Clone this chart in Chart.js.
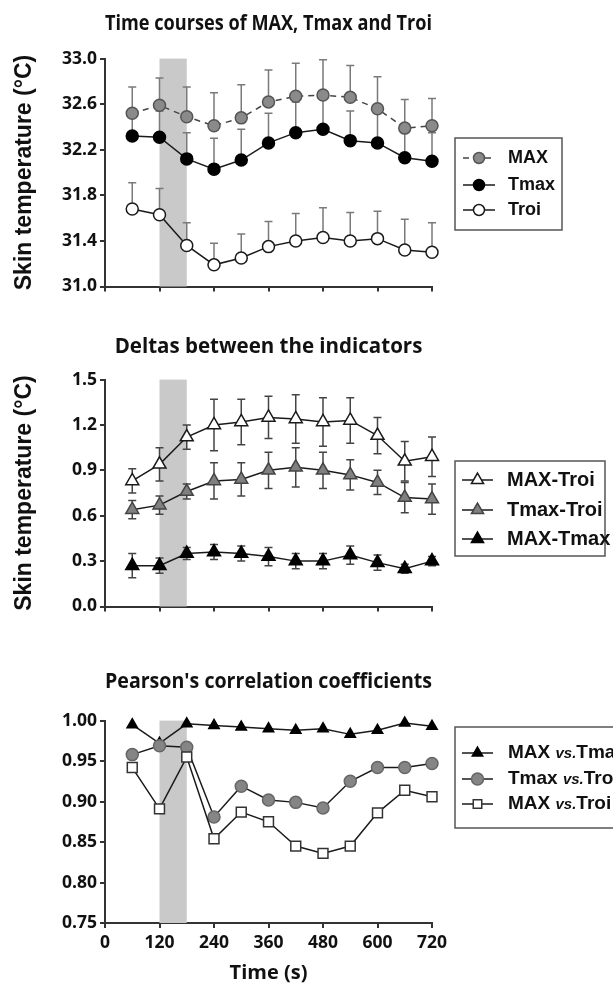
<!DOCTYPE html>
<html>
<head>
<meta charset="utf-8">
<script src="https://cdn.jsdelivr.net/npm/chart.js@4.4.1/dist/chart.umd.min.js"></script>
<style>
    html, body { margin: 0; padding: 0; background: #fff; }
    body { width: 613px; height: 985px; position: relative; overflow: hidden; }
    canvas { position: absolute; left: 0; }
    #tempChart { top: 0; }
    #deltaChart { top: 300px; }
    #corrChart { top: 620px; }
</style>
</head>
<body>
<canvas id="tempChart" width="613" height="300"></canvas>
<canvas id="deltaChart" width="613" height="320"></canvas>
<canvas id="corrChart" width="613" height="365"></canvas>
<script>
// time points (s) and the grey stimulus window
const times = [60, 120, 180, 240, 300, 360, 420, 480, 540, 600, 660, 720];
const shadeStart = 120;
const shadeEnd = 180;

// panel 1: skin temperature (°C), mean and SD
const maxMean  = [32.52, 32.59, 32.49, 32.41, 32.48, 32.62, 32.67, 32.68, 32.66, 32.56, 32.39, 32.41];
const maxSd    = [0.23, 0.24, 0.26, 0.29, 0.29, 0.28, 0.29, 0.31, 0.28, 0.28, 0.25, 0.24];
const tmaxMean = [32.32, 32.31, 32.12, 32.03, 32.11, 32.26, 32.35, 32.38, 32.28, 32.26, 32.13, 32.10];
const tmaxSd   = [0.22, 0.23, 0.23, 0.27, 0.27, 0.26, 0.27, 0.27, 0.26, 0.27, 0.26, 0.25];
const troiMean = [31.68, 31.63, 31.36, 31.19, 31.25, 31.35, 31.40, 31.43, 31.40, 31.42, 31.32, 31.30];
const troiSd   = [0.23, 0.23, 0.20, 0.19, 0.21, 0.22, 0.24, 0.26, 0.25, 0.24, 0.27, 0.26];

// panel 2: deltas (°C), mean and SD
const maxTroi    = [0.83, 0.94, 1.12, 1.20, 1.22, 1.25, 1.24, 1.22, 1.23, 1.13, 0.96, 0.99];
const maxTroiSd  = [0.08, 0.11, 0.08, 0.17, 0.15, 0.14, 0.16, 0.16, 0.15, 0.12, 0.13, 0.13];
const tmaxTroi   = [0.64, 0.67, 0.76, 0.83, 0.84, 0.90, 0.92, 0.90, 0.87, 0.82, 0.72, 0.71];
const tmaxTroiSd = [0.06, 0.06, 0.05, 0.12, 0.11, 0.12, 0.13, 0.12, 0.10, 0.08, 0.10, 0.10];
const maxTmax    = [0.27, 0.27, 0.35, 0.36, 0.35, 0.33, 0.30, 0.30, 0.34, 0.29, 0.25, 0.30];
const maxTmaxSd  = [0.08, 0.05, 0.04, 0.05, 0.05, 0.06, 0.05, 0.05, 0.06, 0.05, 0.03, 0.03];

// panel 3: Pearson's r
const rMaxTmax  = [0.995, 0.972, 0.996, 0.994, 0.992, 0.990, 0.988, 0.990, 0.983, 0.988, 0.997, 0.993];
const rTmaxTroi = [0.958, 0.969, 0.967, 0.881, 0.919, 0.902, 0.899, 0.892, 0.925, 0.942, 0.942, 0.947];
const rMaxTroi  = [0.942, 0.891, 0.955, 0.854, 0.887, 0.875, 0.845, 0.836, 0.845, 0.886, 0.914, 0.906];

const AXIS = '#333';
const TEXT = '#111';
const TITLE_FONT = 'Open Sans';
const LEGEND_FONT = 'Liberation Sans';

Chart.defaults.font.family = TITLE_FONT;
Chart.defaults.color = TEXT;

const toPoints = (values) => values.map((v, i) => ({ x: times[i], y: v }));

const shadePlugin = {
    id: 'shade',
    beforeDatasetsDraw(chart) {
        const { ctx, chartArea, scales: { x } } = chart;
        const x1 = x.getPixelForValue(shadeStart);
        const x2 = x.getPixelForValue(shadeEnd);
        ctx.save();
        ctx.fillStyle = '#c9c9c9';
        ctx.fillRect(x1, chartArea.top, x2 - x1, chartArea.bottom - chartArea.top);
        ctx.restore();
    }
};

const errorBarPlugin = {
    id: 'errorBars',
    beforeDatasetsDraw(chart) {
        const { ctx, scales: { x, y } } = chart;
        chart.data.datasets.forEach(ds => {
            if (!ds.errors) return;
            ctx.save();
            ctx.strokeStyle = ds.errorColor;
            ctx.lineWidth = 1.5;
            ds.data.forEach((p, i) => {
                const px = x.getPixelForValue(p.x);
                const top = y.getPixelForValue(p.y + ds.errors[i]);
                const bottom = y.getPixelForValue(ds.errorBoth ? p.y - ds.errors[i] : p.y);
                ctx.beginPath();
                ctx.moveTo(px, top);
                ctx.lineTo(px, bottom);
                ctx.moveTo(px - 4, top);
                ctx.lineTo(px + 4, top);
                if (ds.errorBoth) {
                    ctx.moveTo(px - 4, bottom);
                    ctx.lineTo(px + 4, bottom);
                }
                ctx.stroke();
            });
            ctx.restore();
        });
    }
};

function drawMarker(ctx, style, cx, cy, r) {
    ctx.beginPath();
    if (style === 'triangle') {
        let rad = 0;
        ctx.moveTo(cx + Math.sin(rad) * r, cy - Math.cos(rad) * r);
        rad += 2 * Math.PI / 3;
        ctx.lineTo(cx + Math.sin(rad) * r, cy - Math.cos(rad) * r);
        rad += 2 * Math.PI / 3;
        ctx.lineTo(cx + Math.sin(rad) * r, cy - Math.cos(rad) * r);
        ctx.closePath();
    } else if (style === 'rect') {
        const s = r * Math.SQRT1_2;
        ctx.rect(cx - s, cy - s, 2 * s, 2 * s);
    } else {
        ctx.arc(cx, cy, r, 0, Math.PI * 2);
    }
    ctx.fill();
    ctx.stroke();
}

// boxed legend on the right, line + marker + bold label
const boxLegendPlugin = {
    id: 'boxLegend',
    afterDraw(chart, args, opts) {
        const { ctx } = chart;
        ctx.save();
        ctx.strokeStyle = '#555';
        ctx.lineWidth = 1.5;
        ctx.strokeRect(opts.box[0], opts.box[1], opts.box[2], opts.box[3]);
        chart.data.datasets.forEach((ds, i) => {
            const y = opts.rows[i];
            ctx.strokeStyle = ds.borderColor;
            ctx.lineWidth = ds.borderWidth;
            ctx.setLineDash(ds.borderDash || []);
            ctx.beginPath();
            ctx.moveTo(opts.lineX[0], y);
            ctx.lineTo(opts.lineX[1], y);
            ctx.stroke();
            ctx.setLineDash([]);
            ctx.fillStyle = ds.pointBackgroundColor;
            ctx.strokeStyle = ds.pointBorderColor;
            ctx.lineWidth = ds.pointBorderWidth;
            drawMarker(ctx, ds.pointStyle, (opts.lineX[0] + opts.lineX[1]) / 2, y, opts.markerRadius || ds.pointRadius);

            ctx.fillStyle = TEXT;
            ctx.textBaseline = 'middle';
            let tx = opts.textX;
            const parts = ds.label.split('vs.');
            parts.forEach((part, k) => {
                ctx.font = `bold ${opts.fontSize}px "${LEGEND_FONT}"`;
                ctx.fillText(part, tx, y);
                tx += ctx.measureText(part).width;
                if (k < parts.length - 1) {
                    ctx.font = `italic bold ${opts.fontSize - 4}px "${LEGEND_FONT}"`;
                    ctx.fillText('vs.', tx, y + 1);
                    tx += ctx.measureText('vs.').width;
                }
            });
        });
        ctx.restore();
    }
};

function buildOptions(cfg) {
    return {
        responsive: false,
        animation: false,
        layout: { padding: { left: 0, right: 181, top: 0, bottom: 0 } },
        plugins: {
            legend: { display: false },
            tooltip: { enabled: false },
            title: {
                display: true,
                text: cfg.title,
                fullSize: false,
                color: TEXT,
                font: { family: TITLE_FONT, size: 20.5, weight: 'bold' },
                padding: { top: cfg.titleTop, bottom: cfg.titleBottom }
            },
            boxLegend: cfg.legend
        },
        scales: {
            x: {
                type: 'linear',
                min: 0,
                max: 720,
                afterFit(scale) { scale.height = cfg.xHeight; },
                border: { display: true, color: AXIS, width: 2 },
                grid: { display: true, drawOnChartArea: false, drawTicks: true, tickLength: 5, color: AXIS, lineWidth: 2 },
                ticks: {
                    display: cfg.showXLabels,
                    stepSize: 120,
                    padding: 5,
                    color: TEXT,
                    font: { family: TITLE_FONT, size: 17.5, weight: 'bold' }
                },
                title: {
                    display: cfg.showXLabels,
                    text: 'Time (s)',
                    color: TEXT,
                    font: { family: TITLE_FONT, size: 20, weight: 'bold' },
                    padding: { top: 0, bottom: 0 }
                }
            },
            y: {
                min: cfg.yMin,
                max: cfg.yMax,
                afterFit(scale) { scale.width = 105; },
                border: { display: true, color: AXIS, width: 2 },
                grid: { display: true, drawOnChartArea: false, drawTicks: true, tickLength: 5, color: AXIS, lineWidth: 2 },
                ticks: {
                    stepSize: cfg.yStep,
                    padding: 3,
                    color: TEXT,
                    font: { family: TITLE_FONT, size: 17.5, weight: 'bold' },
                    callback: (value) => Number(value).toFixed(cfg.decimals)
                },
                title: {
                    display: !!cfg.yTitle,
                    text: cfg.yTitle,
                    color: TEXT,
                    font: { family: LEGEND_FONT, size: 23, weight: 'bold' },
                    padding: { top: 11, bottom: 0 }
                }
            }
        }
    };
}

function series(label, values, style, extra) {
    return Object.assign({
        label: label,
        data: toPoints(values),
        borderColor: '#1a1a1a',
        borderWidth: 1.5,
        pointStyle: style,
        pointBorderColor: '#1a1a1a',
        pointBorderWidth: 1.5,
        tension: 0,
        fill: false,
        clip: false
    }, extra);
}

function renderTempChart() {
    const ctx = document.getElementById('tempChart').getContext('2d');
    new Chart(ctx, {
        type: 'line',
        data: {
            datasets: [
                series('MAX', maxMean, 'circle', {
                    borderColor: '#444', borderDash: [6, 5],
                    pointBackgroundColor: '#8a8a8a', pointBorderColor: '#555', pointRadius: 6,
                    errors: maxSd, errorBoth: false, errorColor: '#7a7a7a'
                }),
                series('Tmax', tmaxMean, 'circle', {
                    pointBackgroundColor: '#000', pointBorderColor: '#000', pointRadius: 6,
                    errors: tmaxSd, errorBoth: false, errorColor: '#7a7a7a'
                }),
                series('Troi', troiMean, 'circle', {
                    pointBackgroundColor: '#fff', pointRadius: 6,
                    errors: troiSd, errorBoth: false, errorColor: '#7a7a7a'
                })
            ]
        },
        options: buildOptions({
            title: 'Time courses of MAX, Tmax and Troi', titleTop: 12, titleBottom: 22,
            yMin: 31, yMax: 33, yStep: 0.4, decimals: 1, yTitle: 'Skin temperature (°C)',
            showXLabels: false, xHeight: 12,
            legend: { box: [455, 138, 107, 92], rows: [158, 185, 210], lineX: [463, 495], textX: 508, fontSize: 18, markerRadius: 5.5 }
        }),
        plugins: [shadePlugin, errorBarPlugin, boxLegendPlugin]
    });
}

function renderDeltaChart() {
    const ctx = document.getElementById('deltaChart').getContext('2d');
    new Chart(ctx, {
        type: 'line',
        data: {
            datasets: [
                series('MAX-Troi', maxTroi, 'triangle', {
                    pointBackgroundColor: '#fff', pointRadius: 7.5,
                    errors: maxTroiSd, errorBoth: true, errorColor: '#444'
                }),
                series('Tmax-Troi', tmaxTroi, 'triangle', {
                    pointBackgroundColor: '#808080', pointBorderColor: '#444', pointRadius: 7.5,
                    errors: tmaxTroiSd, errorBoth: true, errorColor: '#444'
                }),
                series('MAX-Tmax', maxTmax, 'triangle', {
                    pointBackgroundColor: '#000', pointBorderColor: '#000', pointRadius: 7.5,
                    errors: maxTmaxSd, errorBoth: true, errorColor: '#444'
                })
            ]
        },
        options: buildOptions({
            title: 'Deltas between the indicators', titleTop: 35, titleBottom: 20,
            yMin: 0, yMax: 1.5, yStep: 0.3, decimals: 1, yTitle: 'Skin temperature (°C)',
            showXLabels: false, xHeight: 11,
            legend: { box: [455, 161, 150, 95], rows: [180, 210, 239], lineX: [462, 493], textX: 507, fontSize: 20, markerRadius: 7 }
        }),
        plugins: [shadePlugin, errorBarPlugin, boxLegendPlugin]
    });
}

function renderCorrChart() {
    const ctx = document.getElementById('corrChart').getContext('2d');
    new Chart(ctx, {
        type: 'line',
        data: {
            datasets: [
                series('MAX vs.Tmax', rMaxTmax, 'triangle', {
                    pointBackgroundColor: '#000', pointBorderColor: '#000', pointRadius: 6, order: 3
                }),
                series('Tmax vs.Troi', rTmaxTroi, 'circle', {
                    pointBackgroundColor: '#858585', pointBorderColor: '#666', pointRadius: 6, order: 2
                }),
                series('MAX vs.Troi', rMaxTroi, 'rect', {
                    pointBackgroundColor: '#fff', pointBorderColor: '#333', pointRadius: 7, order: 1
                })
            ]
        },
        options: buildOptions({
            title: "Pearson's correlation coefficients", titleTop: 50, titleBottom: 26,
            yMin: 0.75, yMax: 1.0, yStep: 0.05, decimals: 2, yTitle: '',
            showXLabels: true, xHeight: 62,
            legend: { box: [455, 107, 170, 101], rows: [133, 159, 184], lineX: [462, 493], textX: 508, fontSize: 19, markerRadius: 6 }
        }),
        plugins: [shadePlugin, errorBarPlugin, boxLegendPlugin]
    });
}

renderTempChart();
renderDeltaChart();
renderCorrChart();
</script>
</body>
</html>
